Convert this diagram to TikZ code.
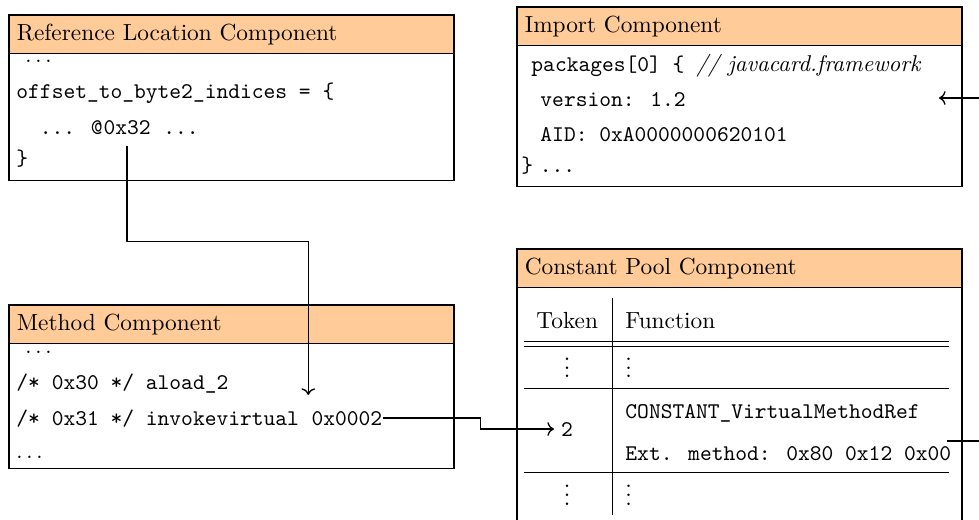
\documentclass[tikz,border=0pt]{standalone}
\usetikzlibrary{arrows.meta,positioning}
\definecolor{headfill}{RGB}{255,204,153}

\tikzset{
  comphead/.style={draw, thick, fill=headfill, anchor=north west, outer sep=0pt,
    font=\fontsize{10.4}{12.5}\selectfont,
    text width=191.5pt, inner xsep=3.5pt, minimum height=17.2pt, align=left},
  compbody/.style={draw, thick, minimum width=198.5pt, inner sep=0pt, outer sep=0pt},
  codeline/.style={anchor=base west, inner sep=0pt, font=\ttfamily},
  textline/.style={anchor=base west, inner sep=0pt, font=\fontsize{10.4}{12.5}\selectfont},
  tablerule/.style={line width=0.4pt},
  link/.style={semithick, ->},
}

\begin{document}
\begin{tikzpicture}[x=0.446pt, y=-0.446pt, >=To]
    \useasboundingbox (0,0) rectangle (979,520);

    % Reference Location Component
    \node[comphead] (refhead) at (9,15) {Reference Location Component};
    \node[compbody, below=0pt of refhead, minimum height=56.6pt] (refbody) {};
    \node[textline] (refdots) at (25,63) {$\ldots$};
    \node[codeline] (refoff) at (16,99) {offset\_to\_byte2\_indices = \{};
    \node[codeline] (refpre) at (39.5,135) {... @};
    \node[codeline, base right=0pt of refpre] (reftag) {0x32};
    \node[codeline, base right=5.25pt of reftag] (refpost) {...};
    \node[codeline] (refend) at (16,166) {\}};

    % Import Component
    \node[comphead] (imphead) at (517,7) {Import Component};
    \node[compbody, below=0pt of imphead, minimum height=62.9pt] (impbody) {};
    \node[codeline] (imppkg) at (531,72) {packages[0] \{ {\rmfamily\itshape\fontsize{10.2}{12}\selectfont // javacard.framework}};
    \node[codeline] (impver) at (540,107) {version: 1.2};
    \node[codeline] (impaid) at (540,142) {AID: 0xA0000000620101};
    \node[codeline] (impend) at (521,173) {\}\hspace{3pt}...};

    % Method Component
    \node[comphead] (mthhead) at (9,305) {Method Component};
    \node[compbody, below=0pt of mthhead, minimum height=55.75pt] (mthbody) {};
    \node[textline] (mthdots) at (25,353) {$\ldots$};
    \node[codeline] (mthload) at (16,390) {/* 0x30 */ aload\_2};
    \node[codeline] (mthinv) at (16,425) {/* 0x31 */ invokevirtual};
    \node[codeline, base right=5.25pt of mthinv] (mthop) {0x0002};
    \node[textline] (mthend) at (16,458) {$\ldots$};

    % Constant Pool Component (runs off the bottom)
    \node[comphead] (cphead) at (517,249) {Constant Pool Component};
    \node[compbody, below=0pt of cphead, minimum height=112pt] (cpbody) {};

    % token table
    \draw[tablerule] (612,298) -- (612,515);
    \foreach \ry in {341,346,388,472} {
        \draw[tablerule] (524,\ry) -- (949,\ry);
    }
    \node[textline] (cptokhead) at (536,329) {Token};
    \node[textline] (cpfunhead) at (625,329) {Function};
    \node[textline, anchor=base] (cptokdots) at (567,378) {$\smash{\vdots}$};
    \node[textline] (cpfundots) at (625,378) {$\smash{\vdots}$};
    \node[codeline, anchor=base, inner xsep=3pt] (cptok) at (567,436) {2};
    \node[codeline] (cpcon) at (625,418) {CONSTANT\_VirtualMethodRef};
    \node[codeline] (cpext) at (625,460) {Ext. method: 0x80 0x12 0x00};
    \node[textline, anchor=base] (cptokend) at (567,505) {$\smash{\vdots}$};
    \node[textline] (cpfunend) at (625,505) {$\smash{\vdots}$};

    % links leaving the picture on the right
    \coordinate (impin) at (939,98);
    \coordinate (impedge) at (985,98);
    \coordinate (cpout) at (947,441);
    \coordinate (cpedge) at (985,441);

    % connectors
    \draw[link, shorten <=4.5pt, shorten >=7pt] (reftag.south) -- ++(0,106) -| ([xshift=-1.3pt]mthop.north west);
    \draw[link] (mthop.east) -- ++(98,0) |- (cptok.west);
    \draw[semithick] (cpout) -- (cpedge);
    \draw[link] (impedge) -- (impin);

\end{tikzpicture}
\end{document}
